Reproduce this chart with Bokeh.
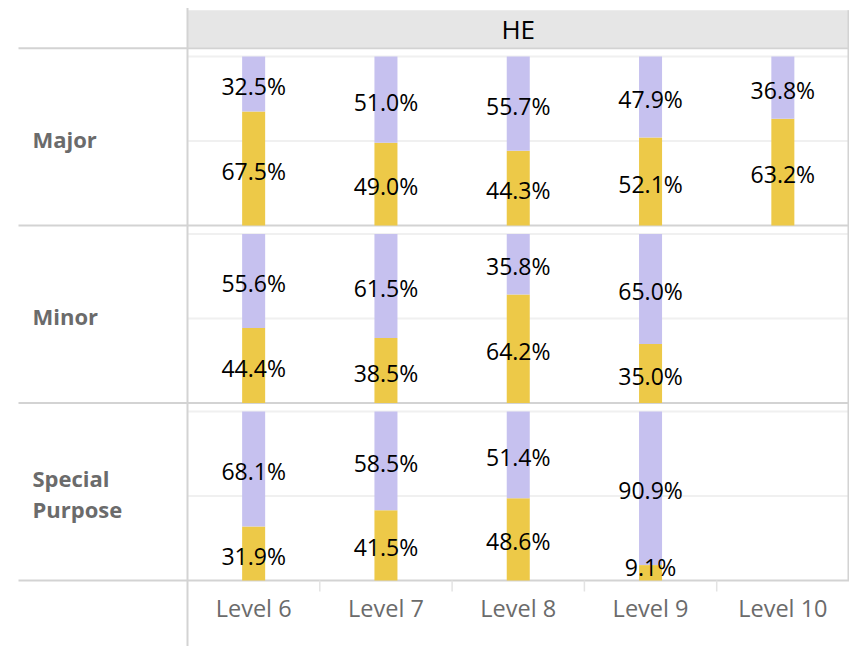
from bokeh.plotting import figure
from bokeh.models import Range1d, Span
from bokeh.core.properties import value
from bokeh.embed import file_html
from bokeh.resources import INLINE

# ---------------- data ----------------
levels = ["Level 6", "Level 7", "Level 8", "Level 9", "Level 10"]
groups = ["Major", "Minor", "Special Purpose"]
header = "HE"

yellow_major = [67.5, 49.0, 44.3, 52.1, 63.2]
purple_major = [32.5, 51.0, 55.7, 47.9, 36.8]
yellow_minor = [44.4, 38.5, 64.2, 35.0, None]
purple_minor = [55.6, 61.5, 35.8, 65.0, None]
yellow_special = [31.9, 41.5, 48.6, 9.1, None]
purple_special = [68.1, 58.5, 51.4, 90.9, None]

yellow_rows = [yellow_major, yellow_minor, yellow_special]
purple_rows = [purple_major, purple_minor, purple_special]

# ---------------- layout constants ----------------
W, H = 849, 646
PX_X = 132.3          # px per column unit
PX_Y = 1.69           # px per percent unit
LEFT_PX = 187         # screen x where the columns start
ZERO_PX = 580         # screen y of the bottom baseline
PITCH = 105           # row pitch in y units
BAR_W = 0.174
FONT = value("Open Sans")
YELLOW = "#EDC948"
PURPLE = "#C6C1EF"
SEP = "#D3D3D3"
FAINT = "#F0F0F0"
GREY_TXT = "#6B6B6B"

n_rows = len(groups)
n_cols = len(levels)

p = figure(width=W, height=H,
           x_range=Range1d(-LEFT_PX / PX_X, (W - LEFT_PX) / PX_X),
           y_range=Range1d(-(H - ZERO_PX) / PX_Y, ZERO_PX / PX_Y),
           min_border=0, outline_line_color=None, toolbar_location=None,
           x_axis_location=None, y_axis_location=None,
           output_backend="svg", background_fill_color="white",
           border_fill_color="white")
p.grid.visible = False

top_all = n_rows * PITCH
x_left_sep = (18 - LEFT_PX) / PX_X

# header band
p.quad(left=0, right=n_cols, bottom=top_all + 0.5, top=top_all + 22.5,
       fill_color="#E6E6E6", line_color=None)
p.text(x=[n_cols / 2], y=[top_all + 11.5], text=[header], text_font=FONT,
       text_font_size=value("26px"), text_color="#000000",
       text_align="center", text_baseline="middle")

# faint gridlines inside each panel
for r in range(n_rows):
    base = (n_rows - 1 - r) * PITCH
    for g in (50, 100):
        p.segment(x0=0, x1=n_cols, y0=base + g, y1=base + g,
                  line_color=FAINT, line_width=2)

# separators
for k in range(n_rows + 1):
    yy = k * PITCH
    p.segment(x0=x_left_sep, x1=n_cols, y0=yy, y1=yy, line_color=SEP, line_width=2)

# vertical borders
p.segment(x0=0, x1=0, y0=-(H - ZERO_PX) / PX_Y, y1=top_all + 23.7,
          line_color=SEP, line_width=2)
p.segment(x0=n_cols - 0.004, x1=n_cols - 0.004, y0=0, y1=top_all + 22.5,
          line_color=SEP, line_width=2)

# column tick marks at the bottom
p.segment(x0=list(range(1, n_cols)), x1=list(range(1, n_cols)),
          y0=[0] * (n_cols - 1), y1=[-6.5] * (n_cols - 1),
          line_color="#E3E3E3", line_width=1.5)

# bars and labels
bx, yb, yt, pb, pt = [], [], [], [], []
lx, ly, lt = [], [], []
for r in range(n_rows):
    base = (n_rows - 1 - r) * PITCH
    for j in range(n_cols):
        yv = yellow_rows[r][j]
        pv = purple_rows[r][j]
        if yv is None or pv is None:
            continue
        x = j + 0.5
        bx.append(x)
        yb.append(base)
        yt.append(base + yv)
        pb.append(base + yv)
        pt.append(base + yv + pv)
        lx += [x, x]
        ly += [base + max(yv / 2, 8.9) - 1.2, base + yv + pv / 2 - 1.2]
        lt += [f"{yv:.1f}%", f"{pv:.1f}%"]

p.vbar(x=bx, width=BAR_W, bottom=yb, top=yt, fill_color=YELLOW, line_color=None)
p.vbar(x=bx, width=BAR_W, bottom=pb, top=pt, fill_color=PURPLE, line_color=None)
p.text(x=lx, y=ly, text=lt, text_font=FONT, text_font_size=value("23px"),
       text_color="#000000", text_align="center", text_baseline="middle")

# row labels
p.text(x=[(32 - LEFT_PX) / PX_X] * n_rows,
       y=[(n_rows - 1 - r) * PITCH + 51.5 for r in range(n_rows)],
       text=[g.replace(" ", "\n") for g in groups], text_font=FONT,
       text_font_size=value("22px"), text_font_style="bold",
       text_color=GREY_TXT, text_align="left", text_baseline="middle",
       text_line_height=1.03)

# column labels
p.text(x=[j + 0.5 for j in range(n_cols)], y=[-16] * n_cols, text=levels,
       text_font=FONT, text_font_size=value("23.5px"), text_color=GREY_TXT,
       text_align="center", text_baseline="middle")

open("out.html", "w").write(file_html(p, INLINE))
